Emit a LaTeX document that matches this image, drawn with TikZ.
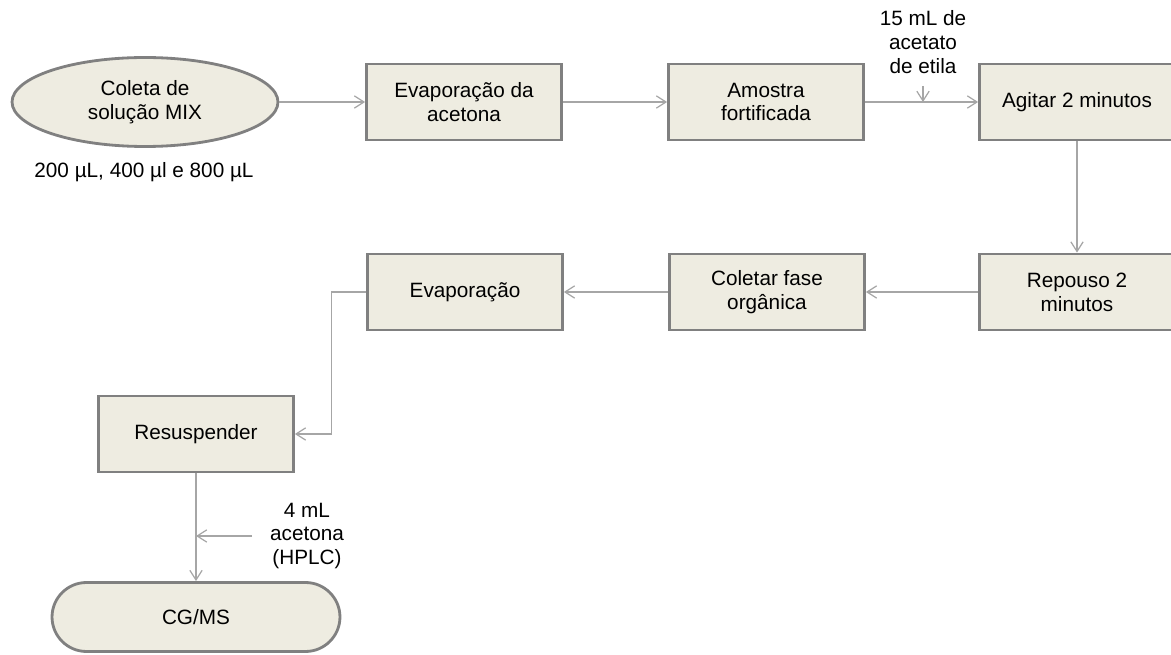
\documentclass[tikz,border=0pt]{standalone}
\usepackage{fontspec}
\setmainfont{Liberation Sans}
\usetikzlibrary{arrows.meta,shapes.geometric}
\definecolor{boxfill}{RGB}{238,236,225}
\definecolor{boxline}{RGB}{128,128,128}
\definecolor{edgeline}{RGB}{166,166,166}

\begin{document}
\begin{tikzpicture}[x=0.02cm,y=-0.02cm]
        \tikzset{process/.style = {shape=rectangle,draw=boxline,line width=1.6pt,fill=boxfill,
            minimum width=3.9cm,minimum height=1.52cm,inner sep=0pt,align=center}}
        \tikzset{terminal/.style = {process,rounded corners=0.69cm,minimum width=5.76cm,minimum height=1.38cm}}
        \tikzset{edge/.style = {draw=edgeline,line width=0.7pt,-{Straight Barb[length=5.5pt,width=7pt]}}}
        \tikzset{note/.style = {align=center,inner sep=0pt}}
        \useasboundingbox (0,0) rectangle (1171,655);
        \fontsize{11.8}{13.6}\selectfont

        % vertices
        \node[ellipse,draw=boxline,line width=1.6pt,fill=boxfill,minimum width=5.32cm,
            minimum height=1.78cm,inner sep=0pt,align=center] (mix) at (145,102) {Coleta de\\solução MIX};
        \node[note] (vol) at (144,172) {200 µL, 400 µl e 800 µL};
        \node[process] (evap1) at (464,102) {Evaporação da\\acetona};
        \node[process] (amostra) at (766,102) {Amostra\\fortificada};
        \node[process] (agitar) at (1077,102) {Agitar 2 minutos};
        \node[note] (etila) at (923,42) {15 mL de\\acetato\\de etila};
        \node[process] (repouso) at (1077,292) {Repouso 2\\minutos};
        \node[process] (coletar) at (767,292) {Coletar fase\\orgânica};
        \node[process] (evap2) at (465,292) {Evaporação};
        \node[process] (resusp) at (196,434) {Resuspender};
        \node[note] (hplc) at (307,536) {4 mL\\acetona\\(HPLC)};
        \node[terminal] (cgms) at (196,617) {CG/MS};
        \coordinate (in1) at (923,86);
        \coordinate (in2) at (252,536);

        %edges
        \draw[edge] (mix) to (evap1);
        \draw[edge] (evap1) to (amostra);
        \draw[edge] (amostra) to (agitar);
        \draw[edge] (in1) to (in1 |- amostra.east);
        \draw[edge] (agitar) to (repouso);
        \draw[edge] (repouso) to (coletar);
        \draw[edge] (coletar) to (evap2);
        \draw[edge] (evap2.west) -- ++(-35,0) |- (resusp.east);
        \draw[edge] (resusp) to (cgms);
        \draw[edge] (in2) to (in2 -| resusp.south);

    \end{tikzpicture}
\end{document}
